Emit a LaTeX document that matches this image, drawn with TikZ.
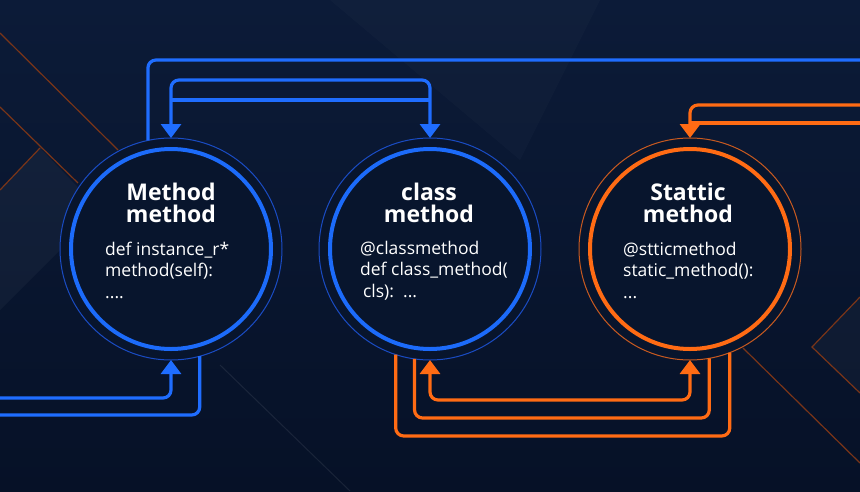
\documentclass[tikz,border=0pt]{standalone}
\usepackage{fontspec}
\setmainfont{Open Sans}
\usetikzlibrary{arrows.meta}
\definecolor{bgtop}{HTML}{0C1B38}
\definecolor{bgbot}{HTML}{061127}
\definecolor{ringblue}{HTML}{1C6BFA}
\definecolor{lineblue}{HTML}{1F6DFF}
\definecolor{thinblue}{HTML}{1A4CC4}
\definecolor{lineorange}{HTML}{FF6B14}
\definecolor{thinorange}{HTML}{C95A20}
\definecolor{circfill}{HTML}{08152D}
\definecolor{decoorange}{HTML}{7A3518}
\begin{document}
\begin{tikzpicture}[x=1pt,y=-1pt,
  >={Triangle[width=20pt,length=14pt]},
  outercirc/.style={circle, minimum size=222pt, inner sep=0pt, outer sep=0pt, fill=circfill, draw=#1, line width=1pt},
  innerring/.style={circle, minimum size=200pt, inner sep=0pt, outer sep=0pt, draw=#1, line width=4pt},
  link/.style={draw=#1, line width=3.2pt, rounded corners=8pt},
  titletext/.style={text=white, align=center, font=\bfseries\fontsize{23}{22}\selectfont, inner sep=0pt},
  codetext/.style={text=white, align=left, font=\fontsize{17.5}{21.5}\selectfont, inner sep=0pt, anchor=base west}]
\useasboundingbox (0,0) rectangle (860,491);
% background
\shade[top color=bgtop, bottom color=bgbot] (0,0) rectangle (860,491);
\fill[white, opacity=0.035] (0,190) -- (40,148) -- (100,210) -- (0,310) -- cycle;
\fill[white, opacity=0.03] (812,347) -- (860,297) -- (860,393) -- cycle;
\fill[white, opacity=0.02] (330,0) -- (600,0) -- (520,160) -- cycle;
\draw[decoorange, line width=1.2pt] (0,33) -- (118,150);
\draw[decoorange, line width=1.2pt] (0,107) -- (78,183);
\draw[decoorange, line width=1.2pt] (40,148) -- (0,190);
\draw[decoorange, line width=1.2pt] (743,348) -- (860,463);
\draw[decoorange, line width=1.2pt] (860,297) -- (812,347) -- (860,393);
\draw[white, opacity=0.08, line width=1pt] (220,365) -- (350,491);

% circles
\node[outercirc=thinblue] (inst) at (171,249) {};
\node[innerring=ringblue] (inst-ring) at (inst.center) {};
\node[outercirc=thinblue] (cls) at (430,249) {};
\node[innerring=ringblue] (cls-ring) at (cls.center) {};
\node[outercirc=thinorange] (stat) at (690,249) {};
\node[innerring=lineorange] (stat-ring) at (stat.center) {};

% texts
\node[titletext] (inst-title) at (171,203) {Method\\method};
\node[codetext] (inst-code) at (105,298) {def instance\_r*\\method(self):\\....};
\node[titletext] (cls-title) at (429,203) {class\\method};
\node[codetext] (cls-code) at (360,297) {@classmethod\\def class\_method(\\\,cls):~~...};
\node[titletext] (stat-title) at (688,203) {Stattic\\method};
\node[codetext] (stat-code) at (623,298) {@stticmethod\\static\_method():\\...};

% free ends
\coordinate (eastTop) at (860,60);
\coordinate (eastA) at (860,105);
\coordinate (eastB) at (860,123);
\coordinate (westA) at (0,398);
\coordinate (westB) at (0,415);
\coordinate (bridgeA) at (300,80);
\coordinate (bridgeB) at (300,100);
\coordinate (lowA) at (560,400);
\coordinate (lowB) at (560,418);
\coordinate (lowC) at (560,436);

% blue connectors
\draw[link=lineblue] (inst.102) |- (eastTop);
\draw[link=lineblue, <->] (inst.north) |- (bridgeA) -| (cls.north);
\draw[link=lineblue] (inst.north |- bridgeB) -- (cls.north |- bridgeB);
\draw[link=lineblue, ->] (westA) -| (inst.south);
\draw[link=lineblue] (westB) -| (inst.-75);

% orange connectors
\draw[link=lineorange, ->] (eastA) -| (stat.north);
\draw[link=lineorange] (eastB) -- (stat.north |- eastB);
\draw[link=lineorange, <->] (cls.south) |- (lowA) -| (stat.south);
\draw[link=lineorange] (cls.-98) |- (lowB) -| (stat.-80);
\draw[link=lineorange] (cls.-108) |- (lowC) -| (stat.-69);
\end{tikzpicture}
\end{document}
